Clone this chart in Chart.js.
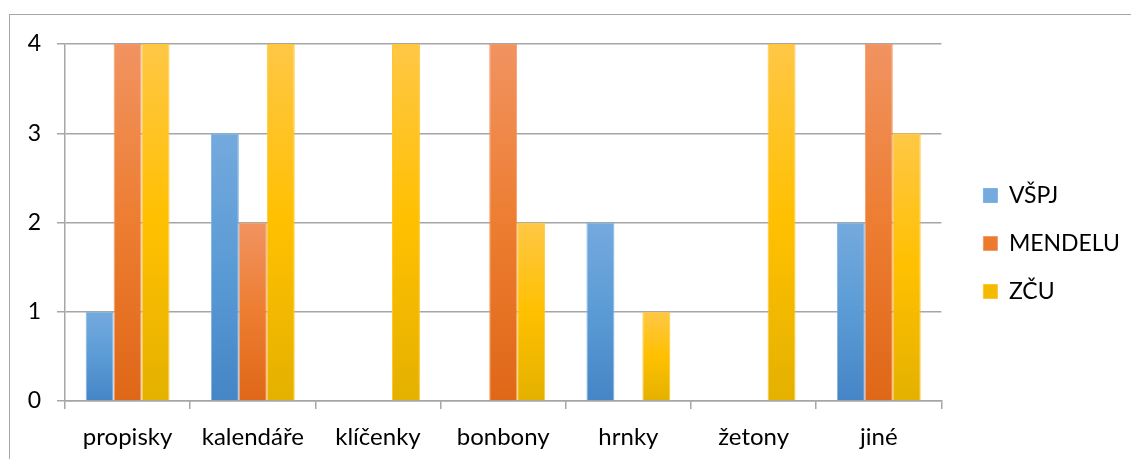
<!DOCTYPE html>
<html>
<head>
<meta charset="utf-8">
<script src="https://cdn.jsdelivr.net/npm/chart.js@4.4.1/dist/chart.umd.min.js"></script>
<style>
  html, body { margin: 0; padding: 0; background: #fff; overflow: hidden; }
  #wrap { position: relative; width: 1131px; height: 459px; }
  #frame { position: absolute; left: 9px; top: 14px; width: 1140px; height: 460px;
           border-left: 1px solid #a6a6a6; border-top: 1px solid #a6a6a6; }
  canvas { position: absolute; left: 0; top: 0; }
</style>
</head>
<body>
<div id="wrap">
  <div id="frame"></div>
  <canvas id="c" width="1131" height="459"></canvas>
</div>
<script>
// Categories and counts per university
const categories = ['propisky', 'kalendáře', 'klíčenky', 'bonbony', 'hrnky', 'žetony', 'jiné'];
const seriesNames = ['VŠPJ', 'MENDELU', 'ZČU'];
const vspj    = [1, 3, 0, 0, 2, 0, 2];
const mendelu = [4, 2, 0, 4, 0, 0, 4];
const zcu     = [4, 4, 4, 2, 1, 4, 3];
const yTicks  = [0, 1, 2, 3, 4];

const FONT = 'Lato, "Open Sans", sans-serif';
const GRID = '#a6a6a6';

// Vertical gradient per bar: light at top, base colour in the middle, darker at the base
function barGradient(light, base, dark) {
  return (ctx) => {
    if (ctx.type !== 'data' || !ctx.chart.chartArea) return base;
    const yScale = ctx.chart.scales.y;
    const top = yScale.getPixelForValue(ctx.parsed.y);
    const bottom = yScale.getPixelForValue(0);
    if (!(bottom > top)) return base;
    const g = ctx.chart.ctx.createLinearGradient(0, top, 0, bottom);
    g.addColorStop(0, light);
    g.addColorStop(0.5, base);
    g.addColorStop(1, dark);
    return g;
  };
}

// Keep a small gap between the plot and the legend column, and lift the legend a little
const legendPlacement = {
  id: 'legendPlacement',
  afterLayout(chart) {
    const lg = chart.legend;
    const dx = 17, dy = -8;
    lg.left += dx; lg.right += dx;
    lg.top += dy; lg.bottom += dy;
  }
};

new Chart(document.getElementById('c'), {
  type: 'bar',
  data: {
    labels: categories,
    datasets: [
      { label: seriesNames[0], data: vspj,
        backgroundColor: barGradient('#74aade', '#5b9bd5', '#4685c6'),
        borderColor: '#7fb2e2', borderWidth: 1 },
      { label: seriesNames[1], data: mendelu,
        backgroundColor: barGradient('#f19361', '#ed7d31', '#df6718'),
        borderColor: '#f29a66', borderWidth: 1 },
      { label: seriesNames[2], data: zcu,
        backgroundColor: barGradient('#ffc746', '#ffc000', '#e4b100'),
        borderColor: '#ffc72e', borderWidth: 1 }
    ]
  },
  options: {
    responsive: false,
    animation: false,
    layout: { padding: { top: 44, left: 0, right: 18, bottom: 0 } },
    datasets: { bar: { categoryPercentage: 0.67, barPercentage: 1 } },
    plugins: {
      legend: {
        position: 'right',
        labels: {
          font: { family: FONT, size: 23 },
          color: '#000',
          boxWidth: 14,
          boxHeight: 14,
          padding: 25
        }
      },
      tooltip: { enabled: false }
    },
    scales: {
      x: {
        grid: { drawOnChartArea: false, color: GRID, tickLength: 8, offset: true, lineWidth: 1.5 },
        border: { color: GRID, width: 1.5 },
        ticks: { font: { family: FONT, size: 24 }, color: '#000', padding: 14 },
        afterFit(scale) { scale.height = 58; }
      },
      y: {
        min: 0,
        max: 4,
        afterBuildTicks(scale) { scale.ticks = yTicks.map(v => ({ value: v })); },
        grid: { color: GRID, tickLength: 8, lineWidth: 1.5 },
        border: { color: GRID, width: 1.5 },
        ticks: { font: { family: FONT, size: 23 }, color: '#000', padding: 16 },
        afterFit(scale) { scale.width = 65; }
      }
    }
  },
  plugins: [legendPlacement]
});
</script>
</body>
</html>
